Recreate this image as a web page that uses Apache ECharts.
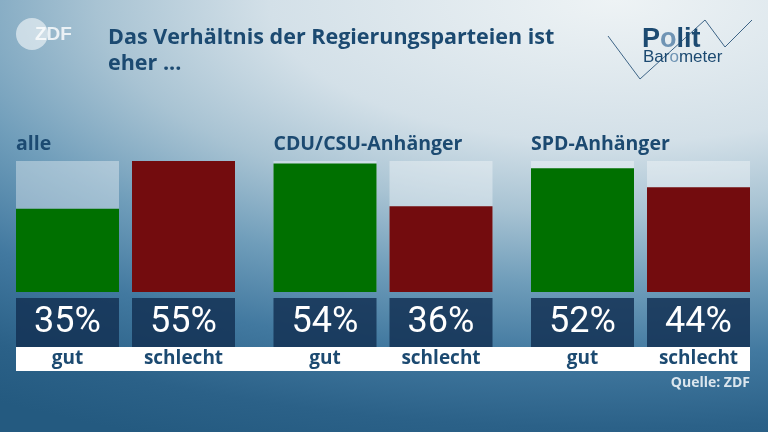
<!DOCTYPE html>
<html>
<head>
    <meta charset="utf-8">
    <title>Politbarometer - Regierungsparteien</title>
    <script src="https://cdn.jsdelivr.net/npm/echarts@6/dist/echarts.min.js"></script>
    <style>
        html, body {
            margin: 0;
            padding: 0;
        }
        #chart {
            width: 768px;
            height: 432px;
            background: radial-gradient(ellipse 150% 110% at 80% 0%, #eef3f5 0%, #d3e0e8 30%, #a8c3d3 45%, #6f9dba 60%, #4279a0 75%, #2b6188 90%, #245a80 100%);
        }
    </style>
</head>
<body>
<div id="chart"></div>
<script>
    // Daten
    var groups = ['alle', 'CDU/CSU-Anhänger', 'SPD-Anhänger'];
    var answers = ['gut', 'schlecht'];
    var gut = [35, 54, 52];
    var schlecht = [55, 36, 44];
    var scaleMax = 55;

    var green = '#007000';
    var red = '#730c0e';
    var dark = '#1c4a71';

    var gridLeft = [9.5, 267, 524.5];

    var chart = echarts.init(document.getElementById('chart'));

    var titles = [{
        text: 'Das Verhältnis der Regierungsparteien ist\neher ...',
        left: 108,
        top: 25,
        padding: 0,
        textStyle: {
            fontFamily: 'Open Sans',
            fontSize: 21.5,
            fontWeight: 'bold',
            color: dark,
            lineHeight: 26
        }
    }];
    var grids = [], xAxes = [], yAxes = [], series = [];

    groups.forEach(function (g, i) {
        var vals = [gut[i], schlecht[i]];
        titles.push({
            text: g,
            left: gridLeft[i] + 6.5,
            top: 134,
            padding: 0,
            textStyle: {fontFamily: 'Open Sans', fontSize: 19.5, fontWeight: 'bold', color: dark}
        });
        grids.push({left: gridLeft[i], top: 161, width: 232, height: 131});
        xAxes.push({
            type: 'category',
            gridIndex: i,
            data: answers,
            axisLine: {show: false},
            axisTick: {show: false},
            axisLabel: {
                margin: 6,
                interval: 0,
                formatter: function (value, idx) {
                    return '{v|' + vals[idx] + '%}\n{n|' + value + '}';
                },
                rich: {
                    v: {
                        width: 103, height: 49, lineHeight: 49, align: 'center',
                        backgroundColor: 'rgba(20,50,85,0.86)',
                        color: '#ffffff', fontFamily: 'Roboto', fontSize: 36
                    },
                    n: {
                        width: 103, height: 24, lineHeight: 24, align: 'center',
                        color: dark, fontFamily: 'Open Sans', fontSize: 19, fontWeight: 'bold'
                    }
                }
            }
        });
        yAxes.push({
            type: 'value', gridIndex: i, min: 0, max: scaleMax,
            show: false, splitLine: {show: false}
        });
        series.push({
            type: 'bar',
            xAxisIndex: i,
            yAxisIndex: i,
            barWidth: 103,
            showBackground: true,
            backgroundStyle: {color: 'rgba(255,255,255,0.36)'},
            data: [
                {value: gut[i], itemStyle: {color: green}},
                {value: schlecht[i], itemStyle: {color: red}}
            ],
            silent: true
        });
    });

    var option = {
        backgroundColor: 'transparent',
        animation: false,
        title: titles,
        grid: grids,
        xAxis: xAxes,
        yAxis: yAxes,
        series: series,
        graphic: [
            // weisser Streifen unter den Werten
            {type: 'rect', shape: {x: 16, y: 347, width: 734, height: 24}, style: {fill: '#ffffff'}, z: 0},
            // ZDF Logo
            {type: 'circle', shape: {cx: 32, cy: 34, r: 16}, style: {fill: 'rgba(255,255,255,0.55)'}},
            {type: 'text', x: 35, y: 25, style: {text: 'ZDF', fill: 'rgba(255,255,255,0.8)', font: 'bold 19px "Liberation Sans"'}},
            // Politbarometer Logo
            {type: 'polyline', shape: {points: [[608, 36], [640, 79], [705, 20], [725, 47], [752, 20]]},
                style: {stroke: '#3d6486', lineWidth: 1, fill: null}},
            {type: 'text', x: 642, y: 26, style: {
                text: '{a|P}{b|o}{a|lit}',
                rich: {
                    a: {fill: dark, font: 'bold 27px "Liberation Sans"'},
                    b: {fill: '#6f94b4', font: 'bold 27px "Liberation Sans"'}
                }
            }},
            {type: 'text', x: 643, y: 49, style: {
                text: '{a|Bar}{b|o}{a|meter}',
                rich: {
                    a: {fill: dark, font: '17px "Liberation Sans"'},
                    b: {fill: '#6f94b4', font: '17px "Liberation Sans"'}
                }
            }},
            // Quelle
            {type: 'text', right: 18, top: 376, style: {
                text: 'Quelle: ZDF', fill: '#dbe6ee', font: 'bold 14px "Open Sans"'
            }}
        ]
    };
    chart.setOption(option);
</script>
</body>
</html>
